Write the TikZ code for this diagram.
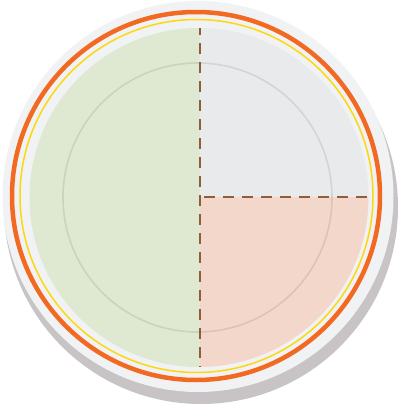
\documentclass[tikz,border=0pt]{standalone}
\begin{document}
\begin{tikzpicture}[x=1pt,y=-1pt,
  rimline/.style={line width=#1},
  sep/.style={draw=dashbrown,line width=2pt,dash pattern=on 11pt off 8pt}]
\definecolor{shadowc}{HTML}{C8C3C4}
\definecolor{rimc}{HTML}{F1F2F4}
\definecolor{orangec}{HTML}{F26A22}
\definecolor{yellowc}{HTML}{FDD80E}
\definecolor{greenc}{HTML}{DFE8D0}
\definecolor{greyc}{HTML}{E9EAEC}
\definecolor{salmonc}{HTML}{F3D7CA}
\definecolor{dashbrown}{HTML}{8C5E3C}
\useasboundingbox (0,0) rectangle (400,405);
% shadow and rim
\fill[shadowc] (201,207) circle (197);
\fill[rimc] (198,196.5) circle (195.5);
\draw[orangec,line width=4.5pt] (196,196) circle (184);
\draw[yellowc,line width=1.5pt] (196.5,196) circle (176.5);
% food areas
\coordinate (c) at (199,197.5);
\begin{scope}
  \clip (c) circle (169.5);
  \fill[greenc] (0,0) rectangle (200,405);
  \fill[greyc] (200,0) rectangle (400,197);
  \fill[salmonc] (200,197) rectangle (400,405);
\end{scope}
\draw[black,opacity=0.09,line width=1.6pt] (197.5,197.5) circle (134.5);
% dividers
\coordinate (vt) at (200,28);
\coordinate (vb) at (200,367);
\coordinate (hm) at (200,197);
\coordinate (hr) at (368,197);
\draw[sep,dash phase=4pt] (vt) -- (vb);
\draw[sep,dash phase=15pt] (hm) -- (hr);
\end{tikzpicture}
\end{document}
